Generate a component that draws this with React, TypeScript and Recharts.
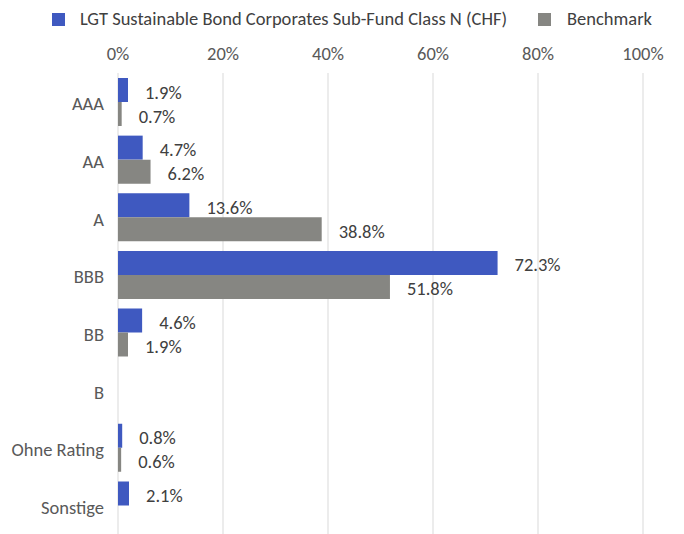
import React from 'react';
import { BarChart, Bar, XAxis, YAxis, CartesianGrid, Legend, LabelList } from 'recharts';

const categories = ['AAA', 'AA', 'A', 'BBB', 'BB', 'B', 'Ohne Rating', 'Sonstige'];
const fundValues: (number | null)[] = [1.9, 4.7, 13.6, 72.3, 4.6, null, 0.8, 2.1];
const benchmarkValues: (number | null)[] = [0.7, 6.2, 38.8, 51.8, 1.9, null, 0.6, null];
const xTicks = [0, 20, 40, 60, 80, 100];

const FUND_NAME = 'LGT Sustainable Bond Corporates Sub-Fund Class N (CHF)';
const BENCH_NAME = 'Benchmark';
const BLUE = '#3F59C0';
const GRAY = '#868682';
const FONT = 'Carlito, Calibri, "Liberation Sans Narrow", sans-serif';
const FS = 18.5;

const data = categories.map((c, i) => ({ name: c, fund: fundValues[i], bench: benchmarkValues[i] }));

const fmt = (v: any) => (v == null ? '' : `${Number(v).toFixed(1)}%`);

const LegendContent = () => (
  <div style={{ position: 'relative', height: 30, fontFamily: FONT, fontSize: FS, color: '#404040' }}>
    <div style={{ position: 'absolute', left: 52, top: 13, width: 13, height: 13, background: BLUE }} />
    <div style={{ position: 'absolute', left: 80, top: 9, whiteSpace: 'nowrap', lineHeight: '20px' }}>{FUND_NAME}</div>
    <div style={{ position: 'absolute', left: 538, top: 13, width: 13, height: 13, background: GRAY }} />
    <div style={{ position: 'absolute', left: 567, top: 9, whiteSpace: 'nowrap', lineHeight: '20px' }}>{BENCH_NAME}</div>
  </div>
);

export default function App() {
  return (
    <div style={{ position: 'absolute', left: 0, top: 0, width: 684, height: 534, background: '#fff' }}>
      <BarChart
        width={684}
        height={534}
        data={data}
        layout="vertical"
        margin={{ top: 0, right: 41, bottom: 0, left: 0 }}
        barCategoryGap={5}
        barGap={0}
      >
        <Legend
          verticalAlign="top"
          align="left"
          height={30}
          content={<LegendContent />}
          wrapperStyle={{ left: 0, top: 0, width: 684, height: 30 }}
        />
        <CartesianGrid horizontal={false} stroke="#d9d9d9" strokeWidth={1} />
        <XAxis
          type="number"
          orientation="top"
          domain={[0, 100]}
          ticks={xTicks}
          tickFormatter={(v: number) => `${v}%`}
          axisLine={false}
          tickLine={false}
          tickSize={6}
          tickMargin={7}
          height={43}
          interval={0}
          tick={{ fill: '#595959', fontSize: FS, fontFamily: FONT }}
        />
        <YAxis
          type="category"
          dataKey="name"
          width={118}
          axisLine={false}
          tickLine={false}
          tickSize={6}
          tickMargin={8}
          interval={0}
          tick={{ fill: '#595959', fontSize: FS, fontFamily: FONT, dy: 2 }}
        />
        <Bar dataKey="fund" name={FUND_NAME} fill={BLUE} barSize={24} isAnimationActive={false}>
          <LabelList dataKey="fund" position="right" offset={17} formatter={fmt} fill="#404040" fontSize={FS} fontFamily={FONT} dy={2} />
        </Bar>
        <Bar dataKey="bench" name={BENCH_NAME} fill={GRAY} barSize={24} isAnimationActive={false}>
          <LabelList dataKey="bench" position="right" offset={17} formatter={fmt} fill="#404040" fontSize={FS} fontFamily={FONT} dy={2} />
        </Bar>
      </BarChart>
    </div>
  );
}
